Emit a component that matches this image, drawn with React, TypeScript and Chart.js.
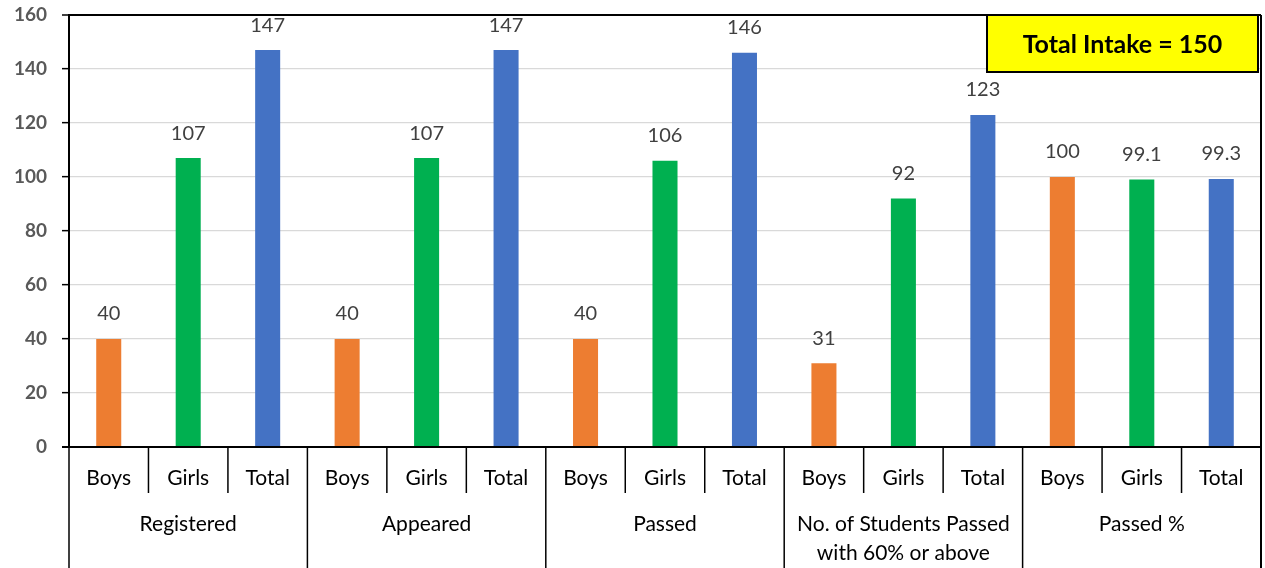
import React, { useEffect, useRef } from "react";
import { Chart, registerables } from "chart.js";

Chart.register(...registerables);

const groups: string[][] = [
  ["Registered"],
  ["Appeared"],
  ["Passed"],
  ["No. of Students Passed", "with 60% or above"],
  ["Passed %"],
];
const subLabels = ["Boys", "Girls", "Total"];
const boys = [40, 40, 40, 31, 100];
const girls = [107, 107, 106, 92, 99.1];
const totals = [147, 147, 146, 123, 99.3];
const yTicks = [0, 20, 40, 60, 80, 100, 120, 140, 160];
const noteText = "Total Intake = 150";

const seriesColors = ["#ED7D31", "#00B050", "#4472C4"];
const FONT = "Lato, 'Open Sans', sans-serif";

export default function App() {
  const ref = useRef<HTMLCanvasElement | null>(null);

  useEffect(() => {
    document.body.style.margin = "0";
    document.body.style.overflow = "hidden";
    const labels: string[] = [];
    const values: number[] = [];
    const colors: string[] = [];
    groups.forEach((_, g) => {
      const vals = [boys[g], girls[g], totals[g]];
      subLabels.forEach((s, i) => {
        labels.push(s);
        values.push(vals[i]);
        colors.push(seriesColors[i]);
      });
    });

    const overlay = {
      id: "overlay",
      afterDatasetsDraw(chart: any) {
        const { ctx } = chart;
        const meta = chart.getDatasetMeta(0);
        ctx.save();
        ctx.fillStyle = "#404040";
        ctx.font = `20px ${FONT}`;
        ctx.textAlign = "center";
        ctx.textBaseline = "middle";
        meta.data.forEach((bar: any, i: number) => {
          ctx.fillText(String(values[i]), bar.x, bar.y - 25);
        });
        ctx.restore();
      },
      afterDraw(chart: any) {
        const { ctx, chartArea } = chart;
        const { left, right, top, bottom } = chartArea;
        const xs = chart.scales.x;
        const n = labels.length;
        const step = (right - left) / n;
        const H = chart.height;
        ctx.save();
        ctx.strokeStyle = "#000";
        ctx.lineWidth = 2;
        ctx.beginPath();
        ctx.moveTo(left - 7, bottom);
        ctx.lineTo(right, bottom);
        ctx.stroke();
        ctx.beginPath();
        ctx.moveTo(right, top);
        ctx.lineTo(right, H);
        ctx.stroke();
        ctx.lineWidth = 1.5;
        for (let i = 0; i <= n; i++) {
          const x = left + i * step;
          ctx.beginPath();
          ctx.moveTo(x, bottom);
          ctx.lineTo(x, i % 3 === 0 ? H : bottom + 46);
          ctx.stroke();
        }
        ctx.fillStyle = "#000";
        ctx.font = `21px ${FONT}`;
        ctx.textAlign = "center";
        ctx.textBaseline = "middle";
        labels.forEach((l, i) => {
          ctx.fillText(l, xs.getPixelForValue(i), bottom + 31);
        });
        groups.forEach((lines, g) => {
          const cx = left + (g * 3 + 1.5) * step;
          lines.forEach((t, k) => {
            ctx.fillText(t, cx, bottom + 77 + k * 29);
          });
        });
        const bx = 987, by = 15, bw = 271, bh = 57;
        ctx.fillStyle = "#FFFF00";
        ctx.fillRect(bx, by, bw, bh);
        ctx.lineWidth = 2;
        ctx.strokeStyle = "#000";
        ctx.strokeRect(bx, by, bw, bh);
        ctx.fillStyle = "#000";
        ctx.font = `bold 25px ${FONT}`;
        ctx.fillText(noteText, bx + bw / 2, by + bh / 2 + 1);
        ctx.restore();
      },
    };

    const chart = new Chart(ref.current as HTMLCanvasElement, {
      type: "bar",
      data: {
        labels,
        datasets: [
          {
            data: values,
            backgroundColor: colors,
            borderWidth: 0,
            barPercentage: 0.315,
            categoryPercentage: 1,
          },
        ],
      },
      options: {
        animation: false,
        responsive: false,
        maintainAspectRatio: false,
        layout: { padding: { left: 0, top: 15, right: 4, bottom: 121 } },
        plugins: {
          legend: { display: false },
          tooltip: { enabled: false },
          title: { display: false },
        },
        scales: {
          x: { display: false },
          y: {
            min: 0,
            max: 160,
            afterBuildTicks: (scale: any) => {
              scale.ticks = yTicks.map((v) => ({ value: v }));
            },
            afterFit: (scale: any) => {
              scale.width = 69;
              scale.paddingTop = 0;
              scale.paddingBottom = 0;
            },
            border: { color: "#000", width: 2 },
            grid: {
              color: (c: any) =>
                c.tick && (c.tick.value === 160 || c.tick.value === 0) ? "#000" : "#D9D9D9",
              lineWidth: (c: any) =>
                c.tick && (c.tick.value === 160 || c.tick.value === 0) ? 2 : 1.3,
              tickColor: "#000",
              tickLength: 7,
              tickWidth: 1.5,
            },
            ticks: {
              color: "#595959",
              padding: 15,
              font: { family: FONT, size: 19, weight: "bold" },
            },
          },
        },
      },
      plugins: [overlay],
    } as any);
    return () => chart.destroy();
  }, []);

  return (
    <div style={{ width: 1265, height: 568 }}>
      <canvas ref={ref} width={1265} height={568} style={{ display: "block" }} />
    </div>
  );
}
